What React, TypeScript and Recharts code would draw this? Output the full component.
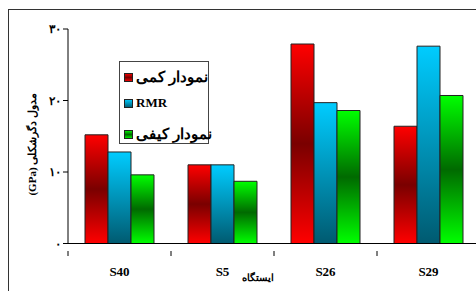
import React from "react";
import { BarChart, Bar, XAxis, YAxis } from "recharts";

const stations = ["S40", "S5", "S26", "S29"];
const quantitative = [15.2, 11.0, 27.9, 16.4];
const rmr = [12.8, 11.0, 19.7, 27.6];
const qualitative = [9.6, 8.7, 18.6, 20.7];
const yTicks = [0, 10, 20, 30];

const SERIES = [
  { key: "kami", name: "نمودار کمی", fill: "url(#gRed)", swatch: "url(#lRed)" },
  { key: "rmr", name: "RMR", fill: "url(#gBlue)", swatch: "url(#lBlue)" },
  { key: "keyfi", name: "نمودار کیفی", fill: "url(#gGreen)", swatch: "url(#lGreen)" },
];

const data = stations.map((s, i) => ({
  station: s,
  kami: quantitative[i],
  rmr: rmr[i],
  keyfi: qualitative[i],
}));

const FONT = "'Liberation Serif', 'Times New Roman', 'DejaVu Serif', serif";
const PERSIAN = "۰۱۲۳۴۵۶۷۸۹";
const toPersian = (v: number) =>
  String(v).replace(/[0-9]/g, (d) => PERSIAN[Number(d)]);

const BAND = 103;

// red / blue / green vertical gradients, used for bars and legend swatches
function Gradients({ prefix }: { prefix: string }) {
  return (
    <defs>
      <linearGradient id={prefix + "Red"} x1="0" y1="0" x2="0" y2="1">
        <stop offset="0" stopColor="#ff0000" />
        <stop offset="0.5" stopColor="#7a0000" />
        <stop offset="1" stopColor="#ff0000" />
      </linearGradient>
      <linearGradient id={prefix + "Blue"} x1="0" y1="0" x2="0" y2="1">
        <stop offset="0" stopColor="#00ccff" />
        <stop offset="1" stopColor="#005a70" />
      </linearGradient>
      <linearGradient id={prefix + "Green"} x1="0" y1="0" x2="0" y2="1">
        <stop offset="0" stopColor="#00ff00" />
        <stop offset="0.5" stopColor="#006a00" />
        <stop offset="1" stopColor="#00ff00" />
      </linearGradient>
    </defs>
  );
}

function StationTick(props: any) {
  const { x, y, payload } = props;
  return (
    <g>
      <line x1={x - BAND / 2} x2={x - BAND / 2} y1={y - 0.5} y2={y + 4.5} stroke="#000" />
      <text
        x={x}
        y={y + 24}
        textAnchor="middle"
        fontFamily={FONT}
        fontWeight="bold"
        fontSize={13}
        fill="#000"
      >
        {payload.value}
      </text>
    </g>
  );
}

function LegendBox() {
  return (
    <div
      style={{
        position: "absolute",
        left: 119,
        top: 61,
        width: 90,
        height: 83,
        border: "1px solid #444",
        background: "#fff",
        boxSizing: "border-box",
        padding: "6px 0 0 4px",
        fontFamily: FONT,
        fontWeight: "bold",
        color: "#000",
      }}
    >
      <svg width={0} height={0} style={{ position: "absolute" }}>
        <Gradients prefix="l" />
      </svg>
      {SERIES.map((s, i) => (
        <div
          key={s.key}
          style={{
            display: "flex",
            alignItems: "center",
            height: 18,
            marginBottom: i === 0 ? 8 : 13,
          }}
        >
          <svg width={9} height={9} style={{ marginRight: 3, flexShrink: 0 }}>
            <rect x={0.5} y={0.5} width={8} height={8} fill={s.swatch} stroke="#222" />
          </svg>
          <span style={{ whiteSpace: "nowrap", fontSize: s.key === "rmr" ? 13 : 15 }}>
            {s.name}
          </span>
        </div>
      ))}
    </div>
  );
}

export default function App() {
  return (
    <div
      style={{
        position: "absolute",
        left: 0,
        top: 0,
        width: 476,
        height: 291,
        overflow: "hidden",
        background: "#fff",
      }}
    >
      <div
        style={{
          position: "absolute",
          left: 8,
          top: 9,
          width: 600,
          height: 400,
          borderLeft: "1.5px solid #333",
          borderTop: "1.5px solid #333",
        }}
      />
      <div style={{ position: "absolute", left: 0, top: 0 }}>
        <BarChart
          width={490}
          height={291}
          data={data}
          margin={{ top: 29, right: 10, left: 8, bottom: 12.5 }}
          barSize={23}
          barGap={0}
        >
          <Gradients prefix="g" />
          <XAxis
            dataKey="station"
            height={35}
            axisLine={{ stroke: "#000" }}
            tickLine={false}
            tick={<StationTick />}
            interval={0}
            label={{
              value: "ایستگاه",
              position: "insideBottom",
              offset: -2,
              dx: -16,
              style: { fontFamily: FONT, fontWeight: "bold", fontSize: 10, fill: "#000" },
            }}
          />
          <YAxis
            width={60}
            domain={[0, 30]}
            ticks={yTicks}
            tickFormatter={toPersian}
            axisLine={{ stroke: "#000" }}
            tickLine={{ stroke: "#000" }}
            tickSize={5}
            tick={{ fontFamily: FONT, fontWeight: "bold", fontSize: 12, fill: "#000" }}
            label={{
              value: "مدول دگرشکلی (GPa)",
              angle: -90,
              position: "center",
              dx: -6,
              dy: 8,
              style: {
                fontFamily: FONT,
                fontWeight: "bold",
                fontSize: 11,
                fill: "#000",
                direction: "rtl",
              },
            }}
          />
          {SERIES.map((s) => (
            <Bar
              key={s.key}
              dataKey={s.key}
              name={s.name}
              fill={s.fill}
              stroke="#222"
              strokeWidth={1}
              isAnimationActive={false}
            />
          ))}
        </BarChart>
      </div>
      <LegendBox />
    </div>
  );
}
